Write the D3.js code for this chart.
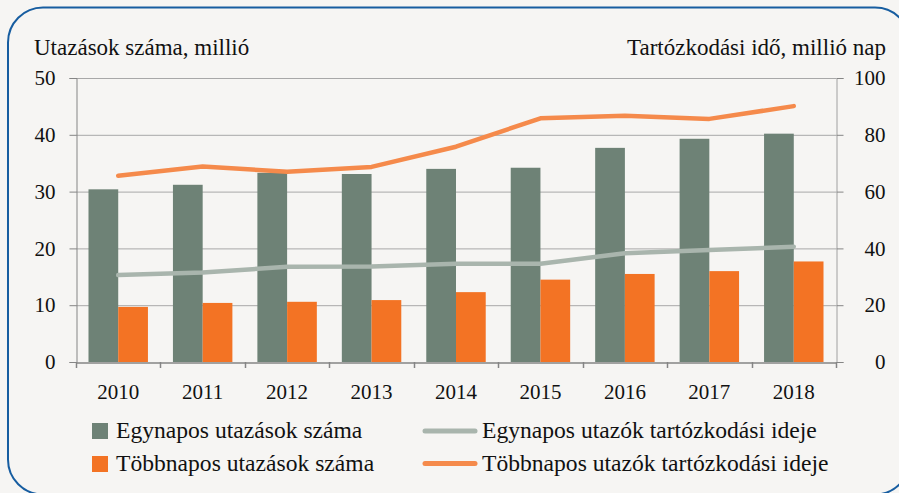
<!DOCTYPE html>
<html>
<head>
<meta charset="utf-8">
<script src="https://cdn.jsdelivr.net/npm/d3@7"></script>
<style>
  html, body { margin: 0; padding: 0; background: #F6F5F3; }
  svg { display: block; }
</style>
</head>
<body>
<svg id="chart" width="899" height="493"></svg>
<script>
const years = ["2010", "2011", "2012", "2013", "2014", "2015", "2016", "2017", "2018"];
const egynaposUtazasok = [30.4, 31.2, 33.3, 33.1, 34.0, 34.2, 37.7, 39.3, 40.2];
const tobbnaposUtazasok = [9.7, 10.4, 10.6, 10.9, 12.3, 14.5, 15.5, 16.0, 17.7];
const egynaposTartozkodas = [30.6, 31.5, 33.5, 33.6, 34.6, 34.6, 38.3, 39.4, 40.6];
const tobbnaposTartozkodas = [65.6, 68.8, 67.0, 68.7, 75.8, 85.8, 86.7, 85.6, 90.1];
const leftTicks = [0, 10, 20, 30, 40, 50];
const rightTicks = [0, 20, 40, 60, 80, 100];
const leftTitle = "Utazások száma, millió";
const rightTitle = "Tartózkodási idő, millió nap";
const legendLabels = ["Egynapos utazások száma", "Többnapos utazások száma",
                      "Egynapos utazók tartózkodási ideje", "Többnapos utazók tartózkodási ideje"];

const C = {
  grayBar: "#6E8276", orangeBar: "#F37324",
  grayLine: "#A9B5AD", orangeLine: "#F58A4B",
  grid: "#A8A8A8", axis: "#858585", border: "#175DA0", text: "#111"
};
const axisFont = "'Liberation Serif', 'Times New Roman', serif";

const svg = d3.select("#chart");
const M = { left: 76, right: 836, top: 78, bottom: 362 };

// background + border
svg.append("rect").attr("width", 899).attr("height", 493).attr("fill", "#F6F5F3");
svg.append("rect").attr("x", 8).attr("y", 7.5).attr("width", 902).attr("height", 487)
  .attr("rx", 35).attr("ry", 35).attr("fill", "none").attr("stroke", C.border).attr("stroke-width", 2);

const x = d3.scaleBand().domain(years).range([M.left, M.right]).paddingInner(0).paddingOuter(0);
const yL = d3.scaleLinear().domain([0, 50]).range([M.bottom, M.top]);
const yR = d3.scaleLinear().domain([0, 100]).range([M.bottom, M.top]);

// gridlines
svg.append("g").selectAll("line").data(leftTicks.slice(1)).join("line")
  .attr("x1", M.left).attr("x2", M.right)
  .attr("y1", d => yL(d) + 0.5).attr("y2", d => yL(d) + 0.5)
  .attr("stroke", C.grid).attr("stroke-width", 1);

// left axis
const gL = svg.append("g").attr("transform", `translate(${M.left + 0.5},0)`)
  .call(d3.axisLeft(yL).tickValues(leftTicks).tickSize(7).tickPadding(14).tickFormat(d3.format("d")));
gL.select(".domain").attr("stroke", C.axis);
gL.selectAll(".tick line").attr("stroke", C.axis);
gL.selectAll("text").attr("font-family", axisFont).attr("font-size", 21).attr("fill", C.text);

// right axis
const gR = svg.append("g").attr("transform", `translate(${M.right + 0.5},0)`)
  .call(d3.axisRight(yR).tickValues(rightTicks).tickSize(7).tickFormat(d3.format("d")));
gR.select(".domain").attr("stroke", "#A0A0A0");
gR.selectAll(".tick line").attr("stroke", C.axis);
gR.selectAll("text").attr("font-family", axisFont).attr("font-size", 21).attr("fill", C.text)
  .attr("text-anchor", "end").attr("x", 885 - M.right);

// bars
const bw = x.bandwidth() * 0.352;
svg.append("g").selectAll("rect").data(years).join("rect")
  .attr("x", d => x(d) + x.bandwidth() / 2 - bw)
  .attr("y", (d, i) => yL(egynaposUtazasok[i]))
  .attr("width", bw)
  .attr("height", (d, i) => yL(0) - yL(egynaposUtazasok[i]))
  .attr("fill", C.grayBar);
svg.append("g").selectAll("rect").data(years).join("rect")
  .attr("x", d => x(d) + x.bandwidth() / 2)
  .attr("y", (d, i) => yL(tobbnaposUtazasok[i]))
  .attr("width", bw)
  .attr("height", (d, i) => yL(0) - yL(tobbnaposUtazasok[i]))
  .attr("fill", C.orangeBar);

// x axis
const gX = svg.append("g").attr("transform", `translate(0,${M.bottom + 0.5})`)
  .call(d3.axisBottom(x).tickSize(0).tickPadding(22));
gX.select(".domain").attr("stroke", C.axis).attr("stroke-width", 1.5);
gX.selectAll("text").attr("font-family", axisFont).attr("font-size", 21).attr("fill", C.text);
// boundary ticks
const bounds = years.map(d => x(d)).concat([M.right]);
svg.append("g").selectAll("line").data(bounds).join("line")
  .attr("x1", d => Math.round(d) + 0.5).attr("x2", d => Math.round(d) + 0.5)
  .attr("y1", M.bottom).attr("y2", M.bottom + 6)
  .attr("stroke", C.axis).attr("stroke-width", 1.5);

// lines
const lineGen = arr => d3.line()
  .x((d, i) => x(years[i]) + x.bandwidth() / 2)
  .y(d => yR(d))(arr);
svg.append("path").attr("d", lineGen(egynaposTartozkodas))
  .attr("fill", "none").attr("stroke", C.grayLine).attr("stroke-width", 4.5)
  .attr("stroke-linecap", "round").attr("stroke-linejoin", "round");
svg.append("path").attr("d", lineGen(tobbnaposTartozkodas))
  .attr("fill", "none").attr("stroke", C.orangeLine).attr("stroke-width", 4.5)
  .attr("stroke-linecap", "round").attr("stroke-linejoin", "round");

// titles
svg.append("text").attr("x", 34).attr("y", 55).text(leftTitle)
  .attr("font-family", axisFont).attr("font-size", 23).attr("fill", C.text);
svg.append("text").attr("x", 886).attr("y", 55).attr("text-anchor", "end").text(rightTitle)
  .attr("font-family", axisFont).attr("font-size", 23).attr("fill", C.text);

// legend
const legFont = "'Liberation Serif', 'Times New Roman', serif";
const lg = svg.append("g");
[C.grayBar, C.orangeBar].forEach((c, i) => {
  lg.append("rect").attr("x", 92).attr("y", 423 + i * 33).attr("width", 16).attr("height", 16).attr("fill", c);
  lg.append("text").attr("x", 116).attr("y", 437.5 + i * 33).text(legendLabels[i])
    .attr("font-family", legFont).attr("font-size", 23.6).attr("fill", C.text);
});
[C.grayLine, C.orangeLine].forEach((c, i) => {
  lg.append("line").attr("x1", 425).attr("x2", 475).attr("y1", 431 + i * 32.5).attr("y2", 431 + i * 32.5)
    .attr("stroke", c).attr("stroke-width", 5).attr("stroke-linecap", "round");
  lg.append("text").attr("x", 482).attr("y", 437.5 + i * 33).text(legendLabels[i + 2])
    .attr("font-family", legFont).attr("font-size", 23.6).attr("fill", C.text);
});
</script>
</body>
</html>
